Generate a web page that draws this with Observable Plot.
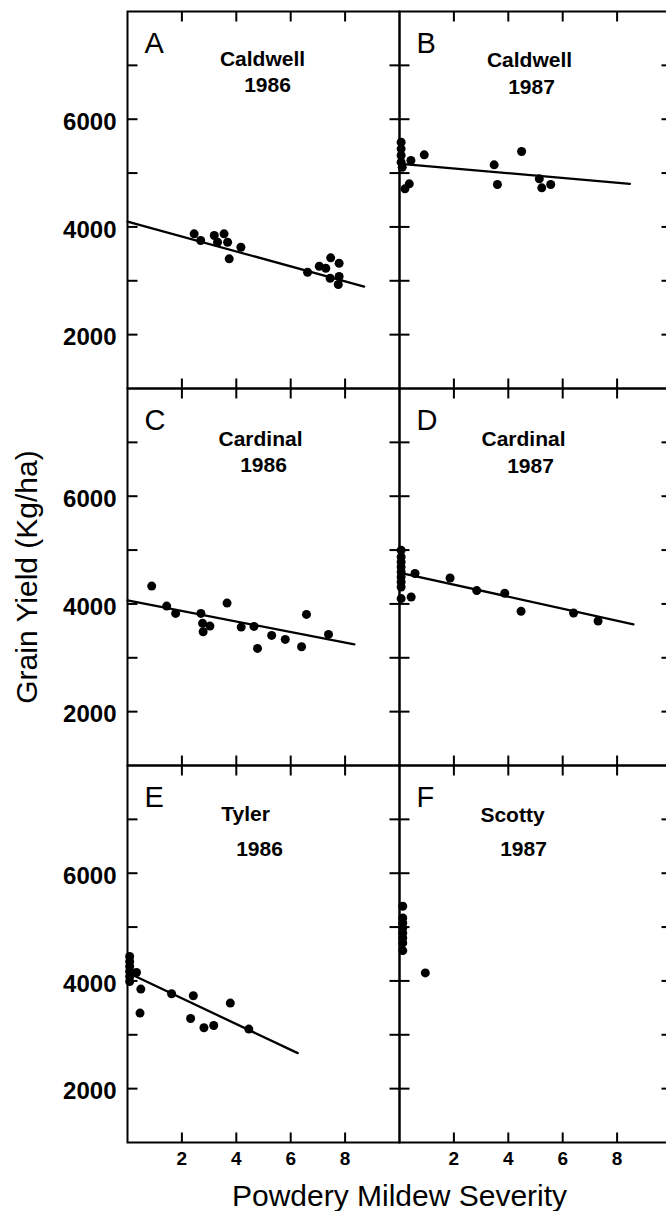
<!DOCTYPE html>
<html><head><meta charset="utf-8">
<script src="https://cdn.jsdelivr.net/npm/d3@7"></script>
<script src="https://cdn.jsdelivr.net/npm/@observablehq/plot@0.6"></script>
<style>
html,body{margin:0;padding:0;background:#fff;overflow:hidden}
#chart{width:666px;height:1211px;overflow:hidden}
#chart svg{max-width:none !important;}
</style></head><body><div id="chart"></div>
<script>
// ---- data ----
const panelKeys = ["A", "B", "C", "D", "E", "F"];
const cultivars = ["Caldwell", "Caldwell", "Cardinal", "Cardinal", "Tyler", "Scotty"];
const years = ["1986", "1987", "1986", "1987", "1986", "1987"];

const sevA = [2.45, 2.69, 3.19, 3.55, 3.31, 3.68, 4.17, 3.74, 6.62, 7.05, 7.29, 7.47, 7.78, 7.45, 7.78, 7.75];
const yldA = [3872, 3747, 3840, 3872, 3716, 3716, 3623, 3408, 3159, 3270, 3233, 3426, 3326, 3047, 3079, 2930];

const sevB = [0.06, 0.06, 0.06, 0.06, 0.1, 0.42, 0.91, 0.2, 0.36, 3.48, 3.6, 4.49, 5.14, 5.23, 5.56];
const yldB = [5573, 5450, 5326, 5202, 5109, 5233, 5339, 4707, 4800, 5153, 4787, 5400, 4893, 4726, 4787];

const sevC = [0.89, 1.44, 1.77, 2.70, 2.76, 3.03, 2.78, 3.66, 4.18, 4.65, 4.78, 5.30, 5.80, 6.40, 6.58, 7.39];
const yldC = [4331, 3960, 3824, 3824, 3639, 3589, 3483, 4016, 3570, 3583, 3174, 3416, 3341, 3204, 3806, 3434];

const sevD = [0.06, 0.06, 0.06, 0.06, 0.06, 0.06, 0.06, 0.06, 0.06, 0.43, 0.57, 1.86, 2.84, 3.87, 4.47, 6.40, 7.30];
const yldD = [4996, 4872, 4779, 4686, 4593, 4500, 4408, 4315, 4099, 4129, 4564, 4482, 4248, 4198, 3863, 3832, 3684];

const sevE = [0.08, 0.08, 0.08, 0.08, 0.08, 0.08, 0.33, 0.49, 0.46, 1.62, 2.42, 3.78, 2.32, 2.81, 3.17, 4.46];
const yldE = [4454, 4361, 4268, 4175, 4082, 3990, 4157, 3849, 3403, 3761, 3724, 3588, 3303, 3130, 3173, 3106];

const sevF = [0.12, 0.12, 0.12, 0.12, 0.12, 0.12, 0.12, 0.12, 0.95];
const yldF = [5387, 5170, 5077, 4984, 4891, 4799, 4706, 4563, 4149];

// regression lines as drawn (panels A–E)
const lineStartSev = [0, 0.05, 0, 0.15, 0.15];
const lineStartYld = [4100, 5172, 4066, 4564, 4118];
const lineEndSev = [8.7, 8.47, 8.34, 8.6, 6.26];
const lineEndYld = [2893, 4800, 3249, 3622, 2660];

const yTicks = [2000, 3000, 4000, 5000, 6000, 7000];
const yTickLabels = [2000, 4000, 6000];
const xTicks = [2, 4, 6, 8];

// ---- layout / style (not data) ----
const title1Dx = [-1, -6, -3, -12, -18, -23];
const title1Dy = [54, 55, 57, 57, 55, 56];
const title2Dx = [4, -4, 0, -5, -4, -12];
const title2Dy = [80, 82, 83, 84, 90, 90];

// ---- build tables ----
const sevs = [sevA, sevB, sevC, sevD, sevE, sevF];
const ylds = [yldA, yldB, yldC, yldD, yldE, yldF];
const points = [];
sevs.forEach((s, i) => s.forEach((v, j) => points.push({panel: panelKeys[i], col: i % 2, row: Math.floor(i / 2), sev: v, yld: ylds[i][j]})));
const lines = [];
lineStartSev.forEach((v, i) => {
  const base = {panel: panelKeys[i], col: i % 2, row: Math.floor(i / 2)};
  lines.push({...base, sev: v, yld: lineStartYld[i]});
  lines.push({...base, sev: lineEndSev[i], yld: lineEndYld[i]});
});
const titles = panelKeys.map((k, i) => ({panel: k, col: i % 2, row: Math.floor(i / 2), cultivar: cultivars[i], year: years[i]}));

const tickShape = {draw(context, l) { context.moveTo(0, 0); context.lineTo(0, -l); }};
const tickStyle = {stroke: "black", strokeWidth: 2, length: 10, anchor: "start", shape: tickShape, strokeLinecap: "butt"};
const plain = d => String(d);

const chart = Plot.plot({
  width: 672,
  height: 1211,
  marginLeft: 127,
  marginRight: 1,
  marginTop: 11,
  marginBottom: 69,
  style: {fontFamily: "Liberation Sans, Arial, sans-serif", background: "white", color: "black", maxWidth: "none"},
  fx: {domain: [0, 1], padding: 0, axis: null},
  fy: {domain: [0, 1, 2], padding: 0, axis: null},
  x: {domain: [0, 10]},
  y: {domain: [1000, 8000]},
  marks: [
    Plot.frame({stroke: "black", strokeWidth: 2}),
    Plot.vector(yTicks, {y: d => d, frameAnchor: "left", rotate: 90, ...tickStyle}),
    Plot.vector(yTicks, {y: d => d, frameAnchor: "right", rotate: -90, ...tickStyle}),
    Plot.vector(xTicks, {x: d => d, frameAnchor: "top", rotate: 180, ...tickStyle}),
    Plot.vector(xTicks, {x: d => d, frameAnchor: "bottom", rotate: 0, ...tickStyle}),
    Plot.axisY(yTickLabels, {anchor: "left", tickSize: 0, tickPadding: 11, dy: 3, fontSize: 24, fontWeight: "bold", tickFormat: plain, label: null}),
    Plot.axisY([], {anchor: "left", tickSize: 0, label: "Grain Yield (Kg/ha)", labelAnchor: "center", labelArrow: "none", labelOffset: 112, fontSize: 30}),
    Plot.axisX(xTicks, {anchor: "bottom", tickSize: 0, tickPadding: 9, fontSize: 19, fontWeight: "bold", tickFormat: plain, label: null}),
    Plot.axisX([], {anchor: "bottom", tickSize: 0, label: "Powdery Mildew Severity", labelAnchor: "center", labelArrow: "none", labelOffset: 63, dx: -7, fontSize: 30}),
    Plot.line(lines, {x: "sev", y: "yld", z: "panel", fx: "col", fy: "row", stroke: "black", strokeWidth: 2.3}),
    Plot.dot(points, {x: "sev", y: "yld", fx: "col", fy: "row", r: 4.5, fill: "black", stroke: "none"}),
    Plot.text(titles, {fx: "col", fy: "row", text: "panel", frameAnchor: "top-left", textAnchor: "start", lineAnchor: "bottom", dx: 17, dy: 41, fontSize: 29, fill: "black"}),
    ...titles.map((t, i) => Plot.text([t], {fx: "col", fy: "row", text: "cultivar", frameAnchor: "top", lineAnchor: "bottom", dx: title1Dx[i], dy: title1Dy[i], fontSize: 21, fontWeight: "bold", fill: "black"})),
    ...titles.map((t, i) => Plot.text([t], {fx: "col", fy: "row", text: "year", frameAnchor: "top", lineAnchor: "bottom", dx: title2Dx[i], dy: title2Dy[i], fontSize: 21, fontWeight: "bold", fill: "black"}))
  ]
});
document.getElementById("chart").appendChild(chart);
</script>
</body></html>
